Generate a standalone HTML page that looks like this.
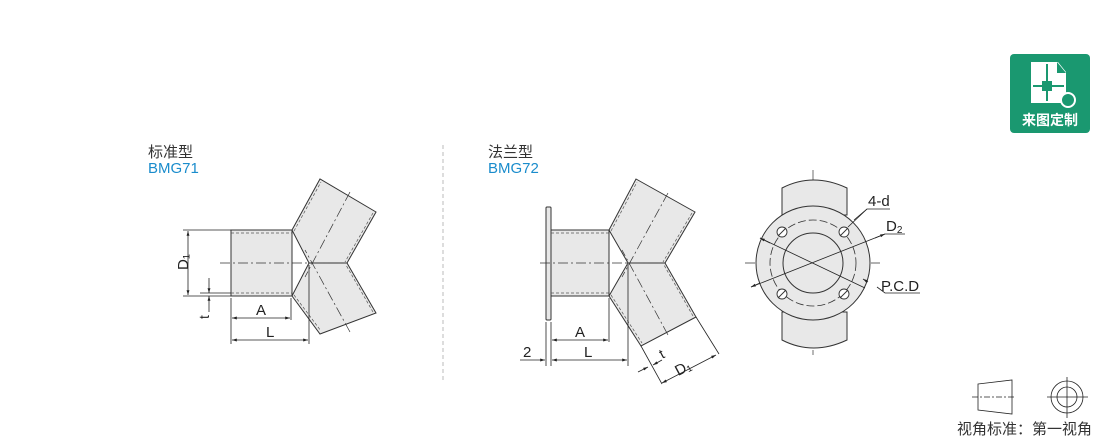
<!DOCTYPE html>
<html><head><meta charset="utf-8"><style>
body{margin:0;background:#fff;width:1110px;height:438px;overflow:hidden;position:relative;font-family:"Liberation Sans","Noto Sans CJK SC",sans-serif}
.t{position:absolute;font-size:15px;line-height:16px}
</style></head><body>
<div class="t" style="left:148px;top:145px;color:#333">标准型</div>
<div class="t" style="left:148px;top:161px;color:#1a8ccc">BMG71</div>
<div class="t" style="left:488px;top:145px;color:#333">法兰型</div>
<div class="t" style="left:488px;top:161px;color:#1a8ccc">BMG72</div>
<svg width="1110" height="438" style="position:absolute;left:0;top:0" font-family="Liberation Sans,sans-serif">
<defs><marker id="a" viewBox="0 0 10 10" refX="10" refY="5" markerWidth="9" markerHeight="6" orient="auto-start-reverse"><path d="M0,2L10,5L0,8z" fill="#222"/></marker></defs>
<line x1="443" y1="145" x2="443" y2="380" stroke="#bbb" stroke-dasharray="4,3"/>
<g stroke="#333" stroke-width="1" fill="#e8e8e8">
<rect x="231" y="230" width="61" height="66"/>
<polygon points="292,230 320,179 376,212 347,263 309,263"/>
<polygon points="292,296 309,263 347,263 376,313 320,334"/>
</g>
<g stroke="#555" fill="none" stroke-width="0.7" stroke-dasharray="3,2">
<line x1="231" y1="233" x2="292" y2="233"/><line x1="231" y1="293" x2="292" y2="293"/>
<line x1="294" y1="231" x2="321" y2="182"/><line x1="373" y1="213" x2="345" y2="262"/>
<line x1="294" y1="295" x2="321" y2="331"/><line x1="373" y1="312" x2="346" y2="265"/>
</g>
<g stroke="#333" stroke-width="0.7" fill="none" stroke-dasharray="10,3,2,3">
<line x1="220" y1="263" x2="347" y2="263"/><line x1="350" y1="192" x2="305" y2="277"/><line x1="350" y1="332" x2="305" y2="250"/>
</g>
<g stroke="#222" stroke-width="0.8" fill="none">
<line x1="183" y1="230" x2="231" y2="230"/><line x1="183" y1="296" x2="231" y2="296"/>
<line x1="200" y1="293" x2="231" y2="293"/>
<line x1="188" y1="231" x2="188" y2="295" marker-start="url(#a)" marker-end="url(#a)"/>
<line x1="209" y1="278" x2="209" y2="293" marker-end="url(#a)"/><line x1="209" y1="312" x2="209" y2="296" marker-end="url(#a)"/>
<line x1="231" y1="298" x2="231" y2="344"/><line x1="291" y1="298" x2="291" y2="320"/><line x1="309" y1="265" x2="309" y2="344"/>
<line x1="232" y1="318" x2="290" y2="318" marker-start="url(#a)" marker-end="url(#a)"/>
<line x1="232" y1="340" x2="308" y2="340" marker-start="url(#a)" marker-end="url(#a)"/>
</g>
<text x="174" y="270" font-size="15" transform="rotate(-90 181 263)" fill="#222">D₁</text>
<text x="200" y="318" font-size="14" transform="rotate(-90 205 314)" fill="#222">t</text>
<text x="256" y="315" font-size="15" fill="#222">A</text>
<text x="266" y="337" font-size="15" fill="#222">L</text>
<g stroke="#333" stroke-width="1" fill="#e8e8e8">
<rect x="546" y="207" width="5" height="113" rx="1"/>
<rect x="551" y="230" width="58" height="66"/>
<polygon points="609,230 636,179 695,212 665,263 628,263"/>
<polygon points="609,296 628,263 665,263 696,317 641,346"/>
</g>
<g stroke="#555" fill="none" stroke-width="0.7" stroke-dasharray="3,2">
<line x1="551" y1="233" x2="609" y2="233"/><line x1="551" y1="293" x2="609" y2="293"/>
<line x1="611" y1="231" x2="637" y2="182"/><line x1="692" y1="213" x2="663" y2="262"/>
<line x1="611" y1="295" x2="642" y2="343"/><line x1="693" y1="316" x2="664" y2="265"/>
</g>
<g stroke="#333" stroke-width="0.7" fill="none" stroke-dasharray="10,3,2,3">
<line x1="540" y1="263" x2="665" y2="263"/><line x1="668" y1="193" x2="622" y2="277"/><line x1="668" y1="335" x2="622" y2="250"/>
<line x1="745" y1="263" x2="880" y2="263"/><line x1="813" y1="170" x2="813" y2="355"/>
</g>
<g stroke="#222" stroke-width="0.8" fill="none">
<line x1="546" y1="322" x2="546" y2="366"/><line x1="551" y1="322" x2="551" y2="366"/>
<line x1="609" y1="298" x2="609" y2="342"/><line x1="628" y1="265" x2="628" y2="366"/>
<line x1="552" y1="340" x2="608" y2="340" marker-start="url(#a)" marker-end="url(#a)"/>
<line x1="552" y1="360" x2="627" y2="360" marker-start="url(#a)" marker-end="url(#a)"/>
<line x1="520" y1="360" x2="545" y2="360" marker-end="url(#a)"/>
<line x1="641" y1="346" x2="662" y2="384"/><line x1="696" y1="317" x2="719" y2="354"/>
<line x1="638" y1="372" x2="648" y2="367" marker-end="url(#a)"/>
<line x1="662" y1="360" x2="653" y2="365" marker-end="url(#a)"/>
<line x1="662" y1="383" x2="716" y2="355" marker-start="url(#a)" marker-end="url(#a)"/>
</g>
<text x="523" y="357" font-size="15" fill="#222">2</text>
<text x="575" y="337" font-size="15" fill="#222">A</text>
<text x="584" y="357" font-size="15" fill="#222">L</text>
<text x="660" y="358" font-size="14" fill="#222" transform="rotate(-28 663 354)">t</text>
<text x="675" y="373" font-size="15" fill="#222" transform="rotate(-28 683 368)">D₁</text>
<g stroke="#333" stroke-width="1" fill="#e8e8e8">
<path d="M782,215 L782,188 Q813,172 847,188 L847,215 Z"/>
<path d="M782,312 L782,340 Q813,356 847,340 L847,312 Z"/>
<circle cx="813" cy="263" r="57"/>
<circle cx="813" cy="263" r="30" fill="#e8e8e8"/>
</g>
<circle cx="813" cy="263" r="43" fill="none" stroke="#333" stroke-width="0.8" stroke-dasharray="8,3"/>
<g stroke="#333" fill="#fff" stroke-width="0.9">
<circle cx="782" cy="232" r="5"/><circle cx="844" cy="232" r="5"/><circle cx="782" cy="294" r="5"/><circle cx="844" cy="294" r="5"/>
<path d="M778,236L786,228M840,236L848,228M778,298L786,290M840,298L848,290"/>
</g>
<g stroke="#222" stroke-width="0.8" fill="none">
<line x1="760" y1="238" x2="865" y2="288" />
<line x1="760" y1="238" x2="770" y2="243" marker-start="url(#a)"/>
<line x1="751" y1="287" x2="885" y2="234"/>
<line x1="751" y1="287" x2="760" y2="283" marker-start="url(#a)"/>
<line x1="875" y1="238" x2="885" y2="234" marker-end="url(#a)"/>
<polyline points="877,287 885,293 920,293"/>
<line x1="868" y1="282" x2="863" y2="279" marker-end="url(#a)"/>
<line x1="848" y1="227" x2="867" y2="209"/><polyline points="854,220 867,209 890,209"/>
<line x1="885" y1="234" x2="905" y2="234"/>
</g>
<text x="868" y="206" font-size="15" fill="#222">4-d</text>
<text x="886" y="231" font-size="15" fill="#222">D<tspan font-size="10" dy="2">2</tspan></text>
<text x="881" y="291" font-size="15" fill="#222">P.C.D</text>
<rect x="1010" y="54" width="80" height="79" rx="4" fill="#1a9870"/>
<path d="M1031,62 L1058,62 L1066,72 L1066,103 L1031,103 Z" fill="#fff"/>
<path d="M1057,62 L1057,73 L1066,73" fill="#1a9870"/>
<g stroke="#1a9870" stroke-width="2"><line x1="1047" y1="64" x2="1047" y2="101"/><line x1="1033" y1="86" x2="1064" y2="86"/></g>
<rect x="1042" y="81" width="10" height="10" fill="#1a9870"/>
<circle cx="1068" cy="100" r="7" fill="#1a9870" stroke="#fff" stroke-width="2"/>
<text x="1050" y="125" font-size="14" font-weight="bold" fill="#fff" text-anchor="middle" font-family="Noto Sans CJK SC,sans-serif">来图定制</text>
<g stroke="#222" stroke-width="0.8" fill="none">
<polygon points="978,384 1012,380 1012,414 978,410"/>
<line x1="972" y1="397" x2="1016" y2="397" stroke-dasharray="6,2,2,2"/>
<circle cx="1067" cy="397" r="16"/><circle cx="1067" cy="397" r="10"/>
<line x1="1047" y1="397" x2="1088" y2="397"/><line x1="1067" y1="377" x2="1067" y2="418"/>
</g>
<text x="957" y="434" font-size="15" fill="#333" font-family="Noto Sans CJK SC,sans-serif">视角标准：第一视角</text>
</svg>
</body></html>
